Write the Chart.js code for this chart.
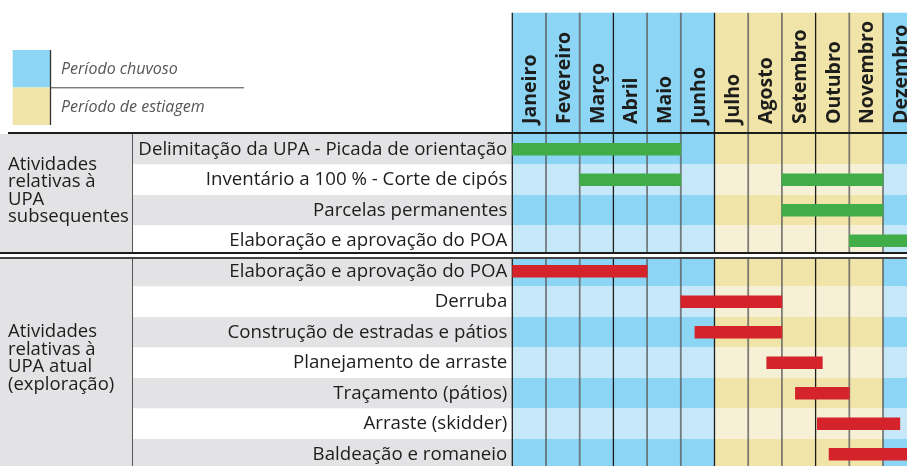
<!DOCTYPE html>
<html>
<head>
<meta charset="utf-8">
<script src="https://cdn.jsdelivr.net/npm/chart.js@4.4.1/dist/chart.umd.min.js"></script>
<style>
html,body{margin:0;padding:0;background:#fff;}
#wrap{width:907px;height:466px;position:relative;}
</style>
</head>
<body>
<div id="wrap"><canvas id="c"></canvas></div>
<script>
// ---- data ----
const months = ['Janeiro','Fevereiro','Março','Abril','Maio','Junho','Julho','Agosto','Setembro','Outubro','Novembro','Dezembro'];
const seasons = ['chuvoso','chuvoso','chuvoso','chuvoso','chuvoso','chuvoso','estiagem','estiagem','estiagem','estiagem','estiagem','chuvoso'];
const legendLabels = ['Período chuvoso','Período de estiagem'];
const rowLabels = [
  'Delimitação da UPA - Picada de orientação',
  'Inventário a 100 % - Corte de cipós',
  'Parcelas permanentes',
  'Elaboração e aprovação do POA',
  'Elaboração e aprovação do POA',
  'Derruba',
  'Construção de estradas e pátios',
  'Planejamento de arraste',
  'Traçamento (pátios)',
  'Arraste (skidder)',
  'Baldeação e romaneio'
];
const groupLabels = [
  ['Atividades','relativas à','UPA','subsequentes'],
  ['Atividades','relativas à','UPA atual','(exploração)']
];
const groupRows = [[0,3],[4,10]];
// [row, start month, end month] (0 = início de janeiro)
const subsequentBars = [[0,0,5],[1,2,5],[1,8,11],[2,8,11],[3,10,12]];
const currentBars = [[4,0,4],[5,5,8],[6,5.42,8],[7,7.55,9.2],[8,8.4,10],[9,9.05,11.5],[10,9.4,12]];

// ---- styles ----
const C = {
  blue:'#8dd5f5', lblue:'#c7e8f8', yel:'#f0e4a8', lyel:'#f6f1d6',
  grey:'#e3e3e5', green:'#41ad49', red:'#d4232b', text:'#1d1d1b'
};
const HEADER_TOP = 12.7;
const LABEL_SPLIT = 133;

const bars = subsequentBars.map(b => ({y:b[0], x:[b[1], b[2]]}))
  .concat(currentBars.map(b => ({y:b[0], x:[b[1], b[2]]})));
const barColors = subsequentBars.map(() => C.green).concat(currentBars.map(() => C.red));

const tablePlugin = {
  id: 'table',
  beforeDraw(chart) {
    const {ctx, chartArea: a, scales: {x, y}} = chart;
    ctx.save();
    ctx.fillStyle = '#fff';
    ctx.fillRect(0, 0, chart.width, chart.height);
    // group column
    ctx.fillStyle = C.grey;
    ctx.fillRect(0, a.top, LABEL_SPLIT, a.bottom - a.top);
    // rows
    rowLabels.forEach((_, i) => {
      const t = y.getPixelForValue(i - 0.5), b = y.getPixelForValue(i + 0.5);
      const dark = i % 2 === 0;
      ctx.fillStyle = dark ? C.grey : '#fff';
      ctx.fillRect(LABEL_SPLIT, t, a.left - LABEL_SPLIT, b - t);
      months.forEach((m, j) => {
        const l = x.getPixelForValue(j), r = x.getPixelForValue(j + 1);
        const rainy = seasons[j] === 'chuvoso';
        ctx.fillStyle = rainy ? (dark ? C.blue : C.lblue) : (dark ? C.yel : C.lyel);
        ctx.fillRect(l, t, r - l, b - t);
      });
    });
    // header
    months.forEach((m, j) => {
      const l = x.getPixelForValue(j), r = x.getPixelForValue(j + 1);
      ctx.fillStyle = seasons[j] === 'chuvoso' ? C.blue : C.yel;
      ctx.fillRect(l, HEADER_TOP, r - l, a.top - HEADER_TOP);
    });
    // legend
    ctx.fillStyle = C.blue; ctx.fillRect(12.7, 50, 37.5, 37.5);
    ctx.fillStyle = C.yel; ctx.fillRect(12.7, 87.5, 37.5, 37.5);
    ctx.strokeStyle = '#333'; ctx.lineWidth = 1.3;
    ctx.beginPath(); ctx.moveTo(50.5, 50); ctx.lineTo(50.5, 125); ctx.stroke();
    ctx.strokeStyle = '#444'; ctx.lineWidth = 1;
    ctx.beginPath(); ctx.moveTo(50.5, 87.8); ctx.lineTo(244, 87.8); ctx.stroke();
    ctx.fillStyle = '#555';
    ctx.font = 'italic 16px "Open Sans"';
    ctx.textBaseline = 'alphabetic'; ctx.textAlign = 'left';
    ctx.fillText(legendLabels[0], 61, 74);
    ctx.fillText(legendLabels[1], 61, 111.5);
    ctx.restore();
  },
  beforeDatasetsDraw(chart) {
    const {ctx, chartArea: a, scales: {x}} = chart;
    ctx.save();
    for (let j = 0; j <= months.length; j++) {
      const px = x.getPixelForValue(j);
      if (j % 3 === 0) { ctx.strokeStyle = '#1d1d1b'; ctx.lineWidth = 1.3; }
      else { ctx.strokeStyle = 'rgba(85,85,85,0.75)'; ctx.lineWidth = 1.8; }
      ctx.beginPath(); ctx.moveTo(px, HEADER_TOP); ctx.lineTo(px, a.bottom); ctx.stroke();
    }
    ctx.strokeStyle = '#555'; ctx.lineWidth = 1;
    ctx.beginPath(); ctx.moveTo(LABEL_SPLIT - 0.5, a.top); ctx.lineTo(LABEL_SPLIT - 0.5, a.bottom); ctx.stroke();
    ctx.restore();
  },
  afterDatasetsDraw(chart) {
    const {ctx, chartArea: a, scales: {y}} = chart;
    ctx.save();
    // top rule
    ctx.fillStyle = '#1d1d1b';
    ctx.fillRect(8, a.top - 2, chart.width - 8, 2);
    // section separator
    const b = y.getPixelForValue(groupRows[0][1] + 0.5);
    ctx.fillStyle = '#1d1d1b'; ctx.fillRect(0, b - 4, chart.width, 2);
    ctx.fillStyle = '#fff'; ctx.fillRect(0, b - 2, chart.width, 3);
    ctx.fillStyle = '#444'; ctx.fillRect(0, b + 1, chart.width, 2);
    // group labels
    ctx.fillStyle = C.text;
    ctx.font = '18.5px "Open Sans"';
    ctx.textAlign = 'left'; ctx.textBaseline = 'alphabetic';
    groupLabels.forEach((lines, g) => {
      const center = y.getPixelForValue((groupRows[g][0] + groupRows[g][1]) / 2);
      const first = center - 25.5;
      lines.forEach((t, k) => ctx.fillText(t, 8, first + k * 17.5));
    });
    ctx.restore();
  }
};

new Chart(document.getElementById('c'), {
  type: 'bar',
  data: {
    datasets: [{
      data: bars,
      backgroundColor: barColors,
      barThickness: 12,
      borderWidth: 0
    }]
  },
  options: {
    indexAxis: 'y',
    responsive: true,
    maintainAspectRatio: false,
    animation: false,
    layout: {padding: 0},
    plugins: {legend: {display: false}, tooltip: {enabled: false}},
    scales: {
      x: {
        type: 'linear', position: 'top', min: 0, max: 11.712, offset: false,
        afterBuildTicks: s => { s.ticks = months.map((_, i) => ({value: i + 0.5})); },
        afterFit: s => { s.height = 134; s.paddingLeft = 0; s.paddingRight = 0; s.paddingTop = 0; s.paddingBottom = 0; },
        ticks: {
          callback: (v, i) => months[i],
          minRotation: 90, maxRotation: 90, autoSkip: false,
          font: {family: '"Open Sans"', weight: 'bold', size: 19.5},
          color: C.text, padding: 10, labelOffset: 25
        },
        grid: {display: false, drawTicks: false},
        border: {display: false}
      },
      y: {
        type: 'linear', reverse: true, min: -0.5, max: 10.385, offset: false,
        afterBuildTicks: s => { s.ticks = rowLabels.map((_, i) => ({value: i})); },
        afterFit: s => { s.width = 512.3; s.paddingLeft = 0; s.paddingRight = 0; s.paddingTop = 0; s.paddingBottom = 0; },
        ticks: {
          callback: (v, i) => rowLabels[i],
          autoSkip: false,
          font: {family: '"Open Sans"', size: 18.7},
          color: C.text, padding: 5
        },
        grid: {display: false, drawTicks: false, offset: false},
        border: {display: false}
      }
    }
  },
  plugins: [tablePlugin]
});
</script>
</body>
</html>
